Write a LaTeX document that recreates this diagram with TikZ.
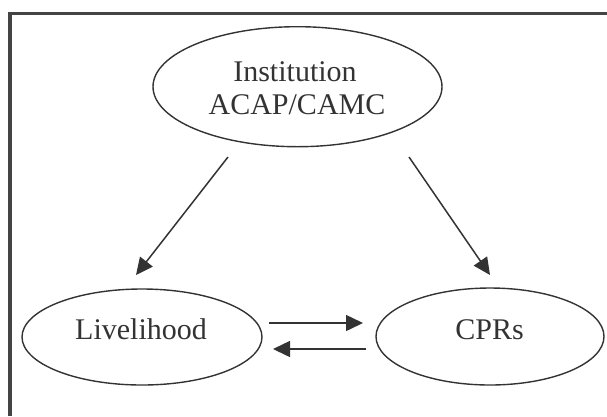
\documentclass[tikz,border=0pt]{standalone}
\usepackage{fontspec}
\setmainfont{Liberation Serif}
\usetikzlibrary{arrows.meta,shapes.geometric}
\definecolor{ink}{HTML}{333333}
\definecolor{framegray}{HTML}{444444}
\begin{document}
\begin{tikzpicture}[x=1pt,y=-1pt,
  oval/.style={draw=ink,line width=1.4pt,ellipse,inner sep=0pt},
  caption/.style={anchor=base,inner sep=0pt,text=ink,
    font=\fontsize{30}{33}\selectfont},
  link/.style={draw=ink,line width=1.5pt,
    -{Triangle[length=17pt,width=16pt]}}]
\useasboundingbox (0,0) rectangle (607,416);
% open frame: left and top edges only
\draw[framegray,line width=3.8pt,line join=miter]
  (10,416) -- (10,13.5) -- (607,13.5);
% the three ovals
\node[oval,minimum width=289pt,minimum height=120pt] (inst) at (297.5,86.7) {};
\node[oval,minimum width=240pt,minimum height=96pt] (live) at (142,337) {};
\node[oval,minimum width=228pt,minimum height=97pt] (cpr) at (490,336.5) {};
% labels
\node[caption] (instA) at (295,81) {Institution};
\node[caption] (instB) at (297,114) {ACAP/CAMC};
\node[caption] (liveT) at (141,339) {Livelihood};
\node[caption] (cprT) at (489.5,339) {CPRs};
% arrow end points
\coordinate (iL) at (228,157);
\coordinate (lT) at (136,275);
\coordinate (iR) at (409,157);
\coordinate (cT) at (490,275);
\coordinate (lA) at (269,323);
\coordinate (cA) at (363,323);
\coordinate (cB) at (366,349);
\coordinate (lB) at (273,349);
\draw[link] (iL) -- (lT);
\draw[link] (iR) -- (cT);
\draw[link] (lA) -- (cA);
\draw[link] (cB) -- (lB);
\end{tikzpicture}
\end{document}
